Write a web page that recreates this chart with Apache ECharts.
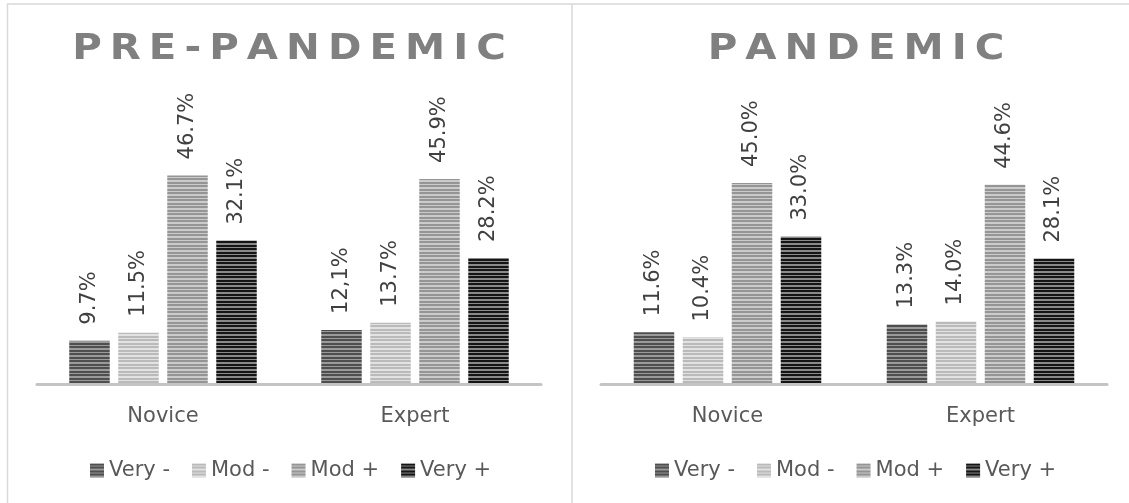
<!DOCTYPE html>
<html>
<head>
<meta charset="utf-8">
<title>Pre-pandemic vs pandemic</title>
<script src="https://cdn.jsdelivr.net/npm/echarts@6/dist/echarts.min.js"></script>
<style>
  html, body { margin: 0; padding: 0; background: #ffffff; }
  #chart { width: 1129px; height: 503px; }
</style>
</head>
<body>
<div id="chart"></div>
<script>
// Categories, series and values
const categories = ['Novice', 'Expert'];
const seriesNames = ['Very -', 'Mod -', 'Mod +', 'Very +'];
const panelTitles = ['PRE-PANDEMIC', 'PANDEMIC'];

const preVeryNeg = [9.7, 12.1];
const preModNeg = [11.5, 13.7];
const preModPos = [46.7, 45.9];
const preVeryPos = [32.1, 28.2];

const panVeryNeg = [11.6, 13.3];
const panModNeg = [10.4, 14.0];
const panModPos = [45.0, 44.6];
const panVeryPos = [33.0, 28.1];

// Labels printed with a decimal comma: [panel, series, category]
const commaLabels = [['PRE-PANDEMIC', 'Very -', 'Expert']];

const panelData = [
  [preVeryNeg, preModNeg, preModPos, preVeryPos],
  [panVeryNeg, panModNeg, panModPos, panVeryPos]
];

// Horizontal stripe fills, one pair of tones per series
const stripeTones = [
  ['#4e4e4e', '#9a9a9a'],
  ['#bababa', '#e2e2e2'],
  ['#959595', '#cbcbcb'],
  ['#151515', '#8a8a8a']
];

// Row layout of one stripe tile (1 = dark tone, 0 = light tone)
const stripeRows = [1, 1, 0, 1, 1, 0, 0];

function stripePattern(tones) {
  const c = document.createElement('canvas');
  c.width = 4;
  c.height = stripeRows.length;
  const ctx = c.getContext('2d');
  stripeRows.forEach((r, y) => {
    ctx.fillStyle = r ? tones[0] : tones[1];
    ctx.fillRect(0, y, 4, 1);
  });
  return { image: c, repeat: 'repeat' };
}

// Wide, tracked heading lettering
function spaced(text) {
  return text.split('').join('\u2009');
}

const labelFont = "'DejaVu Sans', sans-serif";
const titleFont = "'DejaVu Sans', sans-serif";

const grids = [
  { left: 37, width: 504, top: 116, bottom: 119 },
  { left: 601, width: 506, top: 116, bottom: 119 }
];
const panelCenters = [289, 856];
const legendLefts = [90, 655];

const chart = echarts.init(document.getElementById('chart'), null, { renderer: 'canvas' });

const series = [];
panelData.forEach((rows, p) => {
  rows.forEach((values, s) => {
    series.push({
      name: seriesNames[s],
      type: 'bar',
      xAxisIndex: p,
      yAxisIndex: p,
      barWidth: 40.5,
      barGap: '21%',
      itemStyle: { color: stripePattern(stripeTones[s]) },
      label: {
        show: true,
        position: 'top',
        distance: 16,
        rotate: 90,
        align: 'left',
        verticalAlign: 'middle',
        fontFamily: labelFont,
        fontSize: 21,
        color: '#404040',
        formatter: (prm) => {
          let txt = prm.value.toFixed(1);
          const useComma = commaLabels.some(c =>
            c[0] === panelTitles[p] && c[1] === seriesNames[s] && c[2] === prm.name);
          if (useComma) txt = txt.replace('.', ',');
          return txt + '%';
        }
      },
      emphasis: { disabled: true },
      data: values
    });
  });
});

const frameLine = { stroke: '#d9d9d9', lineWidth: 1.5 };

const option = {
  animation: false,
  backgroundColor: '#ffffff',
  legend: legendLefts.map((lx) => ({
    data: seriesNames,
    left: lx,
    top: 460,
    padding: 0,
    itemWidth: 14,
    itemHeight: 14,
    itemGap: 22,
    icon: 'rect',
    selectedMode: false,
    textStyle: { fontFamily: labelFont, fontSize: 21, color: '#595959' }
  })),
  grid: grids,
  xAxis: grids.map((g, i) => ({
    type: 'category',
    gridIndex: i,
    data: categories,
    z: 5,
    axisTick: { show: false },
    axisLine: { lineStyle: { color: '#c4c4c4', width: 3 } },
    axisLabel: { margin: 22, fontFamily: labelFont, fontSize: 21, color: '#595959' }
  })),
  yAxis: grids.map((g, i) => ({
    type: 'value',
    gridIndex: i,
    min: 0,
    max: 60,
    show: false,
    splitLine: { show: false }
  })),
  graphic: [
    { type: 'line', shape: { x1: 7, y1: 4, x2: 1129, y2: 4 }, style: frameLine, silent: true },
    { type: 'line', shape: { x1: 7.5, y1: 4, x2: 7.5, y2: 503 }, style: frameLine, silent: true },
    { type: 'line', shape: { x1: 572, y1: 4, x2: 572, y2: 503 }, style: frameLine, silent: true }
  ].concat(panelTitles.map((t, i) => ({
    type: 'text',
    x: panelCenters[i],
    y: 50,
    scaleX: 1.12,
    silent: true,
    style: {
      text: spaced(t),
      align: 'center',
      verticalAlign: 'middle',
      fontFamily: titleFont,
      fontWeight: 'bold',
      fontSize: 36,
      fill: '#808080'
    }
  }))),
  series: series
};

chart.setOption(option);
</script>
</body>
</html>
